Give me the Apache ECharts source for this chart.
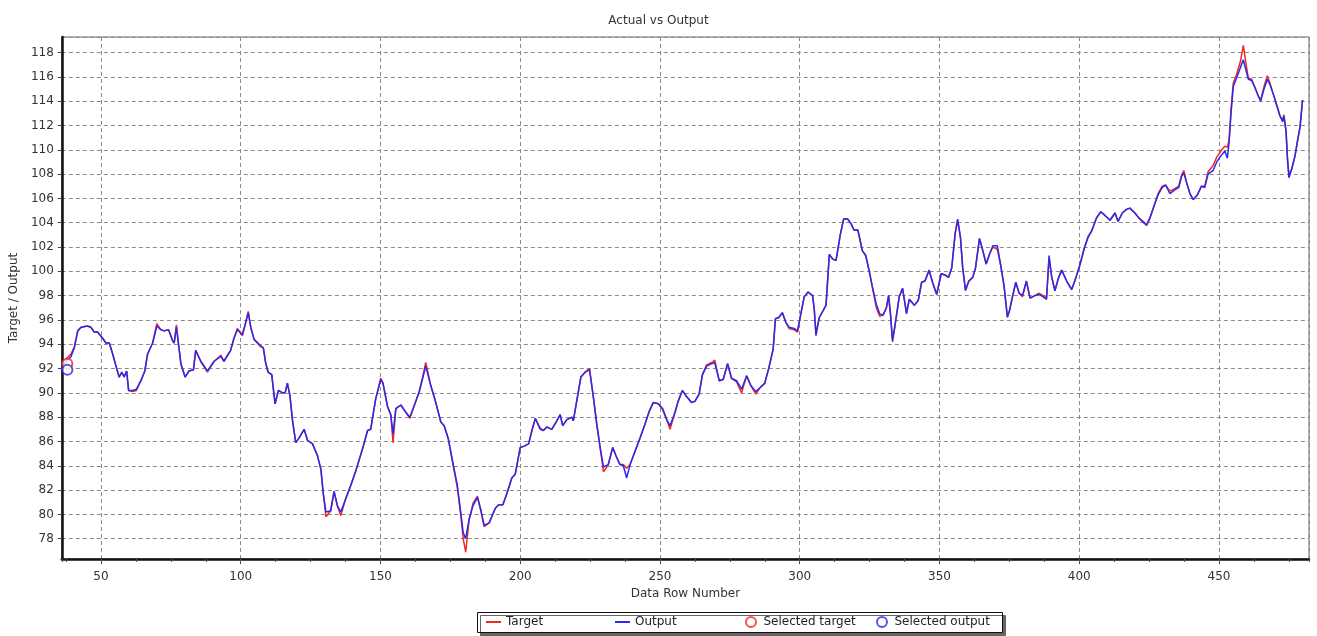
<!DOCTYPE html>
<html>
<head>
<meta charset="utf-8">
<title>Actual vs Output</title>
<script src="https://cdn.jsdelivr.net/npm/echarts@6.0.0/dist/echarts.min.js"></script>
<style>
  html, body { margin: 0; padding: 0; background: #fff; }
  #chart { width: 1317px; height: 636px; }
</style>
</head>
<body>
<div id="chart"></div>
<script>
// data (row number, value)
const rows = [
  36.2, 39.3, 40.5, 41.7, 42.9, 45.2, 46.4, 47.6, 48.8, 50.6, 51.8, 53.0, 54.2, 55.4, 56.5, 57.5, 58.3, 59.2, 59.9, 61.3,
  62.7, 64.3, 65.7, 66.7, 68.5, 70.0, 71.4, 72.6, 74.2, 75.6, 76.2, 77.0, 77.6, 78.6, 80.1, 81.5, 83.1, 83.9, 85.7, 88.1,
  90.5, 92.9, 94.0, 96.4, 97.6, 98.8, 100.6, 101.8, 102.7, 103.6, 104.8, 107.1, 108.1, 108.9, 109.8, 111.1, 112.3, 113.5, 115.0, 115.9,
  116.7, 117.6, 118.5, 119.7, 120.9, 122.7, 123.9, 125.7, 127.5, 128.7, 129.5, 130.5, 132.2, 133.4, 134.6, 135.8, 137.6, 139.4, 141.2, 141.8,
  143.6, 145.4, 146.5, 148.3, 150.1, 150.9, 152.5, 153.7, 154.5, 155.5, 157.3, 159.1, 160.5, 162.0, 163.8, 165.0, 166.2, 168.0, 169.8, 171.6,
  172.8, 174.3, 175.7, 177.5, 178.7, 179.6, 180.5, 181.7, 183.1, 184.7, 185.9, 187.1, 188.9, 191.1, 192.3, 193.8, 195.2, 197.0, 198.2, 200.0,
  201.2, 203.0, 204.2, 205.4, 207.1, 208.3, 209.5, 211.3, 213.1, 214.3, 215.2, 216.7, 218.5, 219.0, 220.2, 221.7, 223.2, 224.8, 226.2, 227.4,
  228.6, 229.8, 231.5, 233.1, 234.3, 235.7, 236.9, 238.1, 239.3, 241.1, 242.9, 244.6, 246.2, 247.6, 249.4, 251.0, 252.4, 253.6, 255.4, 256.5,
  258.0, 259.5, 261.3, 262.5, 264.0, 265.2, 266.7, 268.5, 269.6, 271.2, 272.6, 274.2, 275.6, 277.4, 279.2, 281.0, 282.5, 284.3, 285.7, 287.5,
  289.0, 290.5, 291.3, 292.5, 293.8, 295.0, 296.2, 298.0, 299.2, 300.4, 301.6, 303.0, 304.6, 305.2, 305.8, 307.0, 309.4, 310.6, 311.8, 313.0,
  314.5, 315.7, 317.2, 318.4, 319.4, 320.8, 322.4, 323.6, 324.8, 326.0, 327.4, 328.6, 329.8, 331.0, 331.8, 332.5, 333.2, 334.0, 335.6, 336.8,
  338.2, 339.2, 341.0, 342.4, 343.6, 344.8, 346.3, 347.5, 349.0, 350.6, 352.0, 353.2, 354.4, 355.6, 356.5, 357.5, 358.3, 359.3, 360.5, 361.9,
  362.9, 364.3, 365.5, 366.7, 367.9, 369.1, 370.7, 371.9, 373.1, 374.3, 375.1, 376.1, 377.3, 378.5, 379.7, 381.1, 382.4, 384.1, 385.6, 387.1,
  388.3, 389.2, 390.1, 391.3, 392.5, 393.7, 395.5, 397.3, 398.7, 400.2, 401.8, 403.2, 404.4, 406.2, 407.7, 409.2, 411.0, 412.8, 413.9, 415.4,
  416.9, 418.1, 419.9, 421.3, 422.9, 424.1, 425.3, 427.1, 428.2, 429.7, 430.9, 432.4, 434.2, 435.6, 436.6, 437.4, 438.4, 439.6, 440.8, 442.3,
  443.7, 444.9, 446.1, 447.9, 449.2, 451.0, 452.1, 453.0, 453.6, 454.3, 455.1, 456.3, 457.7, 458.7, 459.7, 460.5, 461.7, 462.9, 464.1, 464.9,
  466.1, 467.3, 468.2, 469.4, 470.6, 471.8, 472.8, 473.2, 474.0, 474.5, 475.0, 476.0, 477.2, 478.0, 479.0, 479.9
]

const outputValues = [
  92.2, 93.0, 93.7, 95.1, 95.4, 95.5, 95.4, 95.0, 95.0, 94.5, 94.1, 94.1, 93.2, 92.2, 91.3, 91.7, 91.3, 91.8, 90.2, 90.2,
  90.3, 91.0, 91.8, 93.2, 94.1, 95.5, 95.2, 95.1, 95.2, 94.3, 94.1, 95.4, 94.3, 92.4, 91.3, 91.8, 91.9, 93.5, 92.6, 91.8,
  92.6, 93.0, 92.6, 93.5, 94.5, 95.2, 94.8, 95.8, 96.6, 95.4, 94.4, 93.9, 93.7, 92.5, 91.7, 91.5, 89.1, 90.2, 90.0, 90.0,
  90.8, 89.8, 87.8, 85.9, 86.3, 87.0, 86.1, 85.8, 84.8, 83.7, 81.8, 80.2, 80.3, 81.9, 80.7, 80.2, 81.3, 82.4, 83.6, 83.5,
  85.4, 86.9, 87.0, 89.5, 91.1, 90.8, 88.9, 88.2, 86.6, 88.7, 89.0, 88.4, 88.0, 88.9, 90.0, 91.1, 92.2, 90.6, 89.2, 87.6,
  87.3, 86.2, 84.5, 82.4, 80.2, 78.5, 78.0, 79.6, 80.7, 81.4, 80.4, 79.1, 79.3, 80.5, 80.8, 80.8, 81.7, 83.0, 83.3, 85.5,
  85.6, 85.8, 86.9, 87.9, 87.1, 86.9, 87.2, 87.0, 87.7, 88.2, 87.3, 87.8, 88.0, 87.7, 89.3, 91.3, 91.7, 91.9, 89.6, 87.4,
  85.5, 83.9, 84.1, 85.5, 84.8, 84.1, 84.0, 83.0, 84.1, 85.2, 86.3, 87.4, 88.5, 89.2, 89.1, 88.7, 87.8, 87.3, 88.4, 89.3,
  90.2, 89.7, 89.2, 89.3, 89.9, 91.5, 92.2, 92.4, 92.5, 91.0, 91.1, 92.4, 91.2, 91.0, 90.3, 91.4, 90.6, 90.1, 90.4, 90.8,
  92.1, 93.6, 96.1, 96.2, 96.6, 95.8, 95.4, 95.3, 95.1, 96.5, 97.9, 98.3, 98.0, 96.9, 94.7, 96.2, 97.2, 101.4, 101.0, 100.9,
  103.0, 104.3, 104.3, 103.9, 103.4, 103.4, 101.7, 101.3, 100.1, 98.7, 97.3, 96.5, 96.4, 97.0, 98.0, 96.4, 94.2, 95.4, 97.9, 98.6,
  96.5, 97.7, 97.2, 97.6, 99.1, 99.2, 100.1, 99.1, 98.1, 99.8, 99.7, 99.5, 100.3, 103.1, 104.3, 102.8, 100.3, 98.4, 99.2, 99.5,
  100.3, 102.7, 101.7, 100.6, 101.4, 102.1, 102.1, 100.5, 98.8, 96.2, 96.8, 97.9, 99.1, 98.2, 98.0, 99.2, 97.8, 98.0, 98.1, 97.9,
  97.7, 101.3, 99.6, 98.4, 99.4, 100.1, 99.2, 98.5, 99.4, 100.5, 101.9, 102.8, 103.3, 104.4, 104.9, 104.6, 104.2, 104.8, 104.1, 104.8,
  105.1, 105.2, 104.8, 104.4, 104.1, 103.8, 104.4, 105.6, 106.3, 106.9, 107.1, 106.4, 106.7, 106.9, 107.8, 108.1, 107.3, 106.4, 105.9, 106.3,
  107.0, 106.9, 108.0, 108.3, 109.0, 109.6, 109.9, 109.3, 110.6, 113.0, 115.2, 115.9, 116.8, 117.4, 116.5, 115.8, 115.7, 115.1, 114.4, 114.0,
  115.0, 115.8, 115.4, 114.6, 113.7, 112.8, 112.3, 112.8, 111.5, 109.2, 107.7, 108.4, 109.5, 110.6, 111.9, 114.1
]

const targetValues = [
  92.5, 93.2, 93.8, 95.1, 95.4, 95.5, 95.4, 95.0, 95.0, 94.5, 94.1, 94.1, 93.2, 92.2, 91.3, 91.7, 91.3, 91.8, 90.2, 90.1,
  90.2, 91.0, 91.8, 93.2, 94.1, 95.7, 95.2, 95.1, 95.2, 94.3, 94.1, 95.6, 94.3, 92.4, 91.3, 91.8, 91.9, 93.5, 92.6, 91.7,
  92.6, 93.1, 92.6, 93.5, 94.5, 95.3, 94.7, 95.8, 96.7, 95.4, 94.4, 93.8, 93.7, 92.5, 91.7, 91.5, 89.1, 90.2, 90.0, 90.0,
  90.8, 89.8, 87.8, 85.9, 86.3, 87.0, 86.1, 85.8, 84.8, 83.7, 81.8, 79.8, 80.3, 81.9, 80.7, 79.9, 81.3, 82.4, 83.6, 83.5,
  85.4, 86.9, 87.0, 89.5, 91.2, 90.8, 88.9, 88.2, 85.9, 88.7, 89.0, 88.4, 87.9, 88.9, 90.1, 91.2, 92.5, 90.6, 89.2, 87.6,
  87.3, 86.2, 84.4, 82.2, 80.0, 78.0, 76.9, 79.5, 80.9, 81.5, 80.3, 79.0, 79.3, 80.5, 80.8, 80.8, 81.7, 83.0, 83.3, 85.5,
  85.6, 85.8, 86.9, 87.9, 87.0, 86.9, 87.2, 87.0, 87.7, 88.2, 87.3, 87.8, 88.0, 87.7, 89.3, 91.3, 91.7, 92.0, 89.6, 87.4,
  85.5, 83.5, 84.1, 85.5, 84.8, 84.1, 84.1, 83.8, 84.1, 85.2, 86.3, 87.4, 88.5, 89.2, 89.1, 88.6, 87.8, 87.0, 88.4, 89.3,
  90.2, 89.7, 89.2, 89.3, 89.9, 91.5, 92.3, 92.5, 92.7, 91.0, 91.1, 92.4, 91.2, 90.9, 90.0, 91.4, 90.6, 89.9, 90.4, 90.8,
  92.1, 93.6, 96.1, 96.2, 96.6, 95.8, 95.3, 95.2, 95.0, 96.5, 97.9, 98.3, 98.0, 96.9, 94.9, 96.2, 97.2, 101.4, 101.0, 100.9,
  103.0, 104.3, 104.3, 103.9, 103.4, 103.4, 101.7, 101.3, 100.1, 98.7, 97.0, 96.3, 96.4, 97.0, 98.0, 96.4, 94.4, 95.4, 97.9, 98.6,
  96.6, 97.7, 97.2, 97.6, 99.1, 99.2, 100.1, 99.1, 98.1, 99.8, 99.7, 99.5, 100.3, 103.1, 104.2, 102.8, 100.3, 98.5, 99.2, 99.5,
  100.3, 102.7, 101.7, 100.6, 101.4, 102.0, 101.8, 100.5, 98.8, 96.3, 96.8, 97.9, 99.1, 98.2, 97.9, 99.2, 97.8, 98.0, 98.2, 98.0,
  97.8, 101.1, 99.6, 98.4, 99.4, 100.1, 99.2, 98.5, 99.4, 100.5, 101.9, 102.9, 103.3, 104.4, 104.9, 104.6, 104.2, 104.8, 104.1, 104.8,
  105.1, 105.2, 104.8, 104.4, 104.0, 103.8, 104.4, 105.6, 106.4, 107.0, 107.1, 106.6, 106.8, 107.0, 107.9, 108.3, 107.3, 106.4, 105.9, 106.3,
  107.0, 107.0, 108.2, 108.7, 109.4, 110.0, 110.3, 110.2, 110.8, 113.3, 115.5, 116.2, 117.3, 118.6, 117.0, 115.9, 115.8, 115.1, 114.4, 114.1,
  115.2, 116.1, 115.5, 114.6, 113.7, 112.8, 112.4, 112.9, 111.5, 109.3, 108.0, 108.4, 109.5, 110.6, 111.9, 114.1
]

// the highlighted point at the start of the run
const selectedTarget = [[38, 92.4]]
const selectedOutput = [[38, 91.9]]

const xMin = 36
const xMax = 482.2
const yMin = 76.33
const yMax = 119.28

const FONT = 'DejaVu Sans'

const chart = echarts.init(document.getElementById('chart'), null, { renderer: 'canvas' })

const gridLine = {
  show: true,
  lineStyle: { color: '#8a8a8a', type: [4, 3], width: 1 },
}

// one legend per entry so the entries sit in even columns inside the framed box
function legendAt(left, item) {
  return {
    left: left,
    top: 616,
    padding: 0,
    itemWidth: 15,
    itemHeight: 10,
    itemGap: 5,
    textStyle: { fontFamily: FONT, fontSize: 12, color: '#222' },
    data: [item],
    z: 10,
  }
}

const option = {
  animation: false,
  backgroundColor: '#fff',
  title: {
    text: 'Actual vs Output',
    left: 'center',
    top: 10,
    textStyle: { fontFamily: FONT, fontSize: 12, fontWeight: 'normal', color: '#333' },
  },
  graphic: [
    {
      type: 'rect',
      left: 477,
      top: 612,
      z: 1,
      shape: { width: 525, height: 20 },
      style: {
        fill: '#fff',
        stroke: '#111',
        lineWidth: 1,
        shadowColor: '#666',
        shadowBlur: 0,
        shadowOffsetX: 3,
        shadowOffsetY: 3,
      },
    },
  ],
  legend: [
    legendAt(485, { name: 'Target', itemStyle: { opacity: 0 } }),
    legendAt(614, { name: 'Output', itemStyle: { opacity: 0 } }),
    legendAt(745, { name: 'Selected target', icon: 'emptyCircle' }),
    legendAt(876, { name: 'Selected output', icon: 'emptyCircle' }),
  ],
  grid: {
    left: 61,
    right: 8,
    top: 37,
    bottom: 77,
    show: true,
    borderColor: '#666',
    borderWidth: 1,
  },
  xAxis: [
    {
      type: 'value',
      min: xMin,
      max: xMax,
      minInterval: 50,
      maxInterval: 50,
      position: 'bottom',
      name: 'Data Row Number',
      nameLocation: 'middle',
      nameGap: 29,
      nameTextStyle: { fontFamily: FONT, fontSize: 12, color: '#333' },
      axisLine: { onZero: false, lineStyle: { color: '#111', width: 2.5 } },
      axisTick: { show: true, length: 5, lineStyle: { color: '#444' } },
      axisLabel: {
        showMinLabel: false,
        showMaxLabel: false,
        margin: 12,
        fontFamily: FONT,
        fontSize: 12,
        color: '#333',
      },
      splitLine: gridLine,
    },
    {
      // small ticks every 12.5 rows
      type: 'value',
      min: xMin,
      max: xMax,
      minInterval: 12.5,
      maxInterval: 12.5,
      position: 'bottom',
      axisLine: { show: false, onZero: false },
      axisTick: { show: true, length: 3, lineStyle: { color: '#555' } },
      axisLabel: { show: false },
      splitLine: { show: false },
    },
  ],
  yAxis: {
    type: 'value',
    min: yMin,
    max: yMax,
    minInterval: 2,
    maxInterval: 2,
    name: 'Target / Output',
    nameLocation: 'middle',
    nameGap: 38,
    nameTextStyle: { fontFamily: FONT, fontSize: 12, color: '#333' },
    axisLine: { show: true, lineStyle: { color: '#111', width: 2.5 } },
    axisTick: { show: true, length: 4, lineStyle: { color: '#444' } },
    axisLabel: {
      showMinLabel: false,
      showMaxLabel: false,
      margin: 8,
      fontFamily: FONT,
      fontSize: 12,
      color: '#333',
    },
    splitLine: gridLine,
  },
  series: [
    {
      name: 'Target',
      type: 'line',
      symbol: 'none',
      color: '#f02828',
      lineStyle: { width: 1.5, color: '#f02828' },
      data: rows.map((r, i) => [r, targetValues[i]]),
      z: 2,
    },
    {
      name: 'Output',
      type: 'line',
      symbol: 'none',
      color: '#2a2aee',
      lineStyle: { width: 1.5, color: '#2a2aee' },
      data: rows.map((r, i) => [r, outputValues[i]]),
      z: 3,
    },
    {
      name: 'Selected target',
      type: 'scatter',
      symbol: 'emptyCircle',
      symbolSize: 10,
      itemStyle: { color: '#f02828', borderWidth: 1.5 },
      data: selectedTarget,
      z: 4,
    },
    {
      name: 'Selected output',
      type: 'scatter',
      symbol: 'emptyCircle',
      symbolSize: 10,
      itemStyle: { color: '#2a2aee', borderWidth: 1.5 },
      data: selectedOutput,
      z: 5,
    },
  ],
}

chart.setOption(option)
</script>
</body>
</html>
